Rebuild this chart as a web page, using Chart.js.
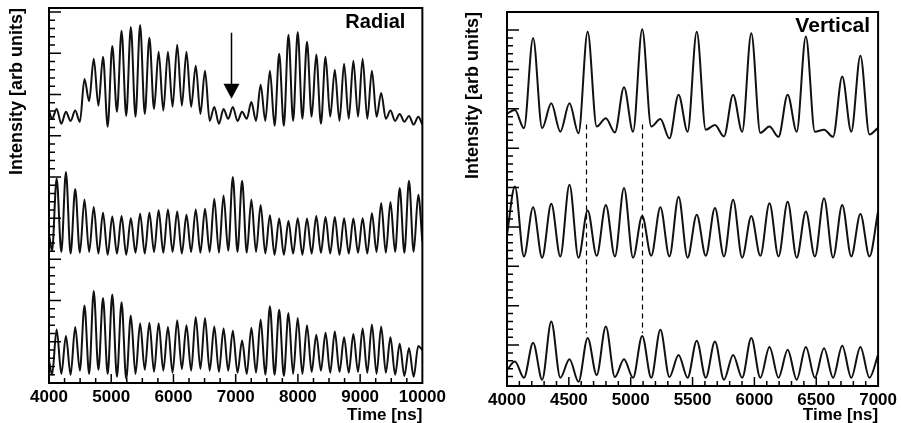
<!DOCTYPE html>
<html>
<head>
<meta charset="utf-8">
<script src="https://cdn.jsdelivr.net/npm/chart.js@4.4.0/dist/chart.umd.min.js"></script>
<style>
  html, body { margin: 0; padding: 0; background: #fff; }
  #wrap { position: relative; width: 901px; height: 423px; }
  canvas { position: absolute; top: 0; }
  #radial { left: 0; }
  #vertical { left: 450px; }
</style>
</head>
<body>
<div id="wrap">
  <canvas id="radial" width="450" height="423"></canvas>
  <canvas id="vertical" width="451" height="423"></canvas>
</div>
<script>
// --- values (arb units, peak / trough pairs) ---
const radialMajor = [4000, 5000, 6000, 7000, 8000, 9000, 10000];
const verticalMajor = [4000, 4500, 5000, 5500, 6000, 6500, 7000];

const radialTimes = [4000, 4049, 4123, 4198, 4272, 4347, 4421, 4496, 4570, 4645, 4719, 4794, 4868, 4943,
  5017, 5092, 5166, 5241, 5315, 5390, 5464, 5539, 5613, 5688, 5762, 5837, 5911, 5986, 6060, 6135,
  6209, 6284, 6358, 6433, 6507, 6582, 6656, 6731, 6805, 6880, 6954, 7029, 7103, 7178, 7252, 7327,
  7401, 7476, 7550, 7625, 7699, 7774, 7848, 7923, 7997, 8072, 8146, 8221, 8295, 8370, 8444, 8519,
  8593, 8668, 8742, 8817, 8891, 8966, 9040, 9115, 9189, 9264, 9338, 9413, 9487, 9562, 9636, 9711,
  9785, 9860, 9934, 10000];

const radialTop = [56.1, 54.1,
  56.5, 52.9, 55.8, 53.6, 56.1, 53.4, 63.8, 58.4, 68.7, 57.3, 69.2, 52.2, 71.8, 55.8, 75.5, 54.8,
  76.4, 54.6, 76.9, 55.3, 73.8, 56.5, 70.4, 56.1, 70.4, 57.0, 72.1, 57.3, 70.4, 57.0, 67.0, 55.3,
  65.8, 53.6, 57.0, 52.9, 56.5, 54.1, 57.0, 53.6, 55.8, 54.1, 58.2, 53.6, 62.4, 53.6, 65.8, 52.4,
  69.9, 52.4, 74.5, 53.6, 75.2, 54.1, 72.8, 54.6, 69.7, 52.9, 69.2, 54.6, 66.0, 53.6, 67.5, 54.1,
  68.2, 54.6, 68.7, 54.1, 65.8, 54.6, 60.4, 54.1, 56.1, 53.6, 55.3, 53.4, 54.8, 52.7,
  54.6, 52.7];

const radialMid = [26.2, 22.1,
  39.6, 21.8, 41.2, 21.4, 37.1, 21.6, 34.5, 21.8, 32.7, 21.4, 31.3, 21.1, 30.4, 21.4, 30.5, 21.1,
  30.0, 21.6, 31.1, 21.4, 31.3, 21.8, 31.9, 21.6, 32.1, 21.8, 31.6, 21.4, 30.8, 21.8, 32.1, 21.6,
  32.3, 21.8, 34.7, 21.6, 35.5, 22.1, 40.0, 21.8, 39.1, 21.6, 34.5, 21.8, 33.2, 21.4, 30.7, 21.1,
  29.9, 21.1, 29.3, 21.4, 30.0, 21.1, 29.9, 21.4, 30.5, 21.6, 30.3, 21.4, 30.3, 21.1, 30.0, 21.4,
  29.9, 21.6, 30.0, 21.4, 31.2, 21.8, 33.7, 21.6, 33.9, 21.8, 37.3, 21.6, 39.1, 21.8,
  35.7, 24.3];

const radialLow = [-4.5, -8.0,
  3.0, -7.8, 1.4, -8.0, 3.6, -7.0, 8.8, -7.8, 12.3, -6.8, 10.6, -7.8, 11.5, -8.5, 9.6, -9.0,
  6.4, -7.8, 4.5, -6.8, 4.6, -7.3, 4.5, -7.0, 3.6, -7.5, 5.2, -6.6, 4.0, -7.0, 6.0, -6.6,
  5.8, -7.0, 3.7, -7.3, 3.2, -7.0, 2.7, -7.5, 0.3, -7.8, 3.4, -7.5, 5.4, -8.0, 8.6, -8.0,
  7.8, -8.3, 7.0, -7.8, 5.8, -7.8, 4.0, -7.3, 1.7, -7.0, 2.2, -7.5, 2.5, -7.3, 1.1, -7.5,
  1.9, -7.3, 3.2, -7.5, 4.2, -7.8, 3.7, -7.5, 1.1, -8.0, -0.5, -8.3, -1.5, -8.5,
  -1.0, -2.0];

const vertTimes = [4000, 4064, 4137, 4211, 4284, 4358, 4431, 4505, 4578, 4652, 4725, 4799, 4872,
  4946, 5019, 5093, 5166, 5240, 5313, 5387, 5460, 5534, 5607, 5681, 5754, 5828, 5901, 5975, 6048,
  6122, 6195, 6269, 6342, 6416, 6489, 6563, 6636, 6710, 6783, 6857, 6930, 7000];

const vertTop = [58.8,
  59.7, 55.1, 78.0, 55.1, 61.4, 54.2, 61.4, 53.8, 79.6, 55.5, 57.6, 54.0, 65.5, 54.2, 80.2, 55.5,
  57.4, 52.5, 63.6, 54.2, 79.6, 54.7, 55.9, 53.0, 63.6, 54.2, 79.2, 53.9, 55.5, 52.9, 63.6, 54.2,
  78.4, 54.2, 54.7, 52.9, 68.2, 54.2, 73.5, 53.5,
  55.2];

const vertMid = [28.0,
  40.3, 22.5, 35.0, 22.2, 35.9, 22.5, 40.7, 22.2, 34.2, 22.7, 35.6, 22.5, 39.9, 22.2, 32.8, 22.7,
  35.0, 22.5, 37.7, 22.2, 33.1, 22.7, 34.8, 22.5, 36.9, 22.2, 32.8, 22.7, 36.0, 22.5, 36.4, 22.2,
  33.9, 22.5, 37.3, 22.2, 35.6, 22.5, 33.3, 22.5,
  34.0];

const vertLow = [-6.3,
  -4.2, -8.3, 0.6, -8.8, 6.0, -8.3, -3.6, -9.3, 1.8, -7.6, 4.7, -8.1, -3.6, -8.3, 2.3, -8.3,
  3.9, -8.1, -2.5, -8.3, 1.1, -8.3, 0.9, -8.8, -2.5, -8.3, 1.8, -8.3, -0.5, -8.3, -1.2, -8.8,
  -0.5, -8.3, -0.8, -8.3, -0.2, -8.3, -0.5, -8.3,
  -2.5];

// annotations, in data units
const radialArrow = { t: 6920, from: 75, to: 59 };
const vertDashes = { at: [4640, 5090], from: 3, to: 56 };

Chart.defaults.font.family = '"Liberation Sans", Arial, Helvetica, sans-serif';
Chart.defaults.color = '#000';

function steps(a, b, d) {
  const out = [];
  for (let v = a; v <= b + 1e-9; v += d) out.push(Math.round(v * 100) / 100);
  return out;
}

// ROOT-like frame: closed box, ticks pointing inwards, panel name, extras
const rootFrame = {
  id: 'rootFrame',
  afterDatasetsDraw(chart, args, o) {
    const { ctx, chartArea: a, scales: { x, y } } = chart;
    ctx.save();
    ctx.strokeStyle = '#000';
    ctx.fillStyle = '#000';

    if (o.dashes) {
      ctx.setLineDash([5, 4]);
      ctx.lineWidth = 1.2;
      const y0 = y.getPixelForValue(o.dashes.to), y1 = y.getPixelForValue(o.dashes.from);
      o.dashes.at.forEach(t => {
        const p = Math.round(x.getPixelForValue(t)) + 0.5;
        ctx.beginPath(); ctx.moveTo(p, y0); ctx.lineTo(p, y1); ctx.stroke();
      });
      ctx.setLineDash([]);
    }

    ctx.lineWidth = 1.5;
    ctx.beginPath();
    y.ticks.forEach(t => {
      if (t.value <= y.min || t.value >= y.max) return;
      const p = y.getPixelForValue(t.value);
      const len = t.value % 10 === 0 ? 12 : 6;
      ctx.moveTo(a.left, p); ctx.lineTo(a.left + len, p);
    });
    x.ticks.forEach(t => {
      if (t.value <= x.min || t.value >= x.max) return;
      const p = x.getPixelForValue(t.value);
      const len = o.majors.includes(t.value) ? 9 : 5;
      ctx.moveTo(p, a.bottom); ctx.lineTo(p, a.bottom - len);
    });
    ctx.stroke();

    ctx.lineWidth = 2;
    ctx.strokeRect(a.left, a.top, a.right - a.left, a.bottom - a.top);

    ctx.font = 'bold ' + o.nameSize + 'px "Liberation Sans", Arial, sans-serif';
    ctx.textAlign = 'right';
    ctx.textBaseline = 'alphabetic';
    ctx.fillText(o.name, a.right - o.nameInset, a.top + o.nameDrop);

    if (o.arrow) {
      const ax = Math.round(x.getPixelForValue(o.arrow.t)) + 0.5;
      const y0 = y.getPixelForValue(o.arrow.from), y1 = y.getPixelForValue(o.arrow.to);
      ctx.lineWidth = 1.5;
      ctx.beginPath(); ctx.moveTo(ax, y0); ctx.lineTo(ax, y1 - 12); ctx.stroke();
      ctx.beginPath();
      ctx.moveTo(ax - 8, y1 - 15); ctx.lineTo(ax + 8, y1 - 15); ctx.lineTo(ax, y1);
      ctx.closePath(); ctx.fill();
    }
    ctx.restore();
  }
};

function panel(id, times, series, cfg) {
  return new Chart(document.getElementById(id), {
    type: 'line',
    data: {
      datasets: series.map(s => ({
        data: times.map((t, i) => ({ x: t, y: s[i] })),
        borderColor: '#111',
        borderWidth: 2,
        pointRadius: 0,
        cubicInterpolationMode: 'monotone',
        fill: false
      }))
    },
    options: {
      responsive: false,
      animation: false,
      devicePixelRatio: 1,
      layout: { padding: cfg.padding },
      plugins: { legend: { display: false }, tooltip: { enabled: false }, rootFrame: cfg.frame },
      scales: {
        x: {
          type: 'linear', min: cfg.xMin, max: cfg.xMax,
          grid: { display: false, drawTicks: false }, border: { display: false },
          afterBuildTicks: s => { s.ticks = steps(cfg.xMin, cfg.xMax, cfg.xMinor).map(v => ({ value: v })); },
          afterFit: s => { s.height = cfg.xHeight; },
          ticks: {
            autoSkip: false, maxRotation: 0, padding: 4,
            font: { size: 17, weight: 'bold' },
            callback: v => cfg.frame.majors.includes(v) ? String(v) : ''
          },
          title: { display: true, text: 'Time [ns]', align: 'end', padding: { top: 0, bottom: -3 }, font: { size: 17, weight: 'bold' } }
        },
        y: {
          type: 'linear', min: cfg.yMin, max: cfg.yMax,
          grid: { display: false, drawTicks: false }, border: { display: false },
          afterBuildTicks: s => { s.ticks = steps(-8, 80, 2).map(v => ({ value: v })); },
          afterFit: s => { s.width = cfg.yWidth; },
          ticks: { display: false },
          title: { display: true, text: 'Intensity [arb units]', align: 'end', padding: { top: cfg.titlePad, bottom: 0 }, font: { size: 18, weight: 'bold' } }
        }
      }
    },
    plugins: [rootFrame]
  });
}

panel('radial', radialTimes, [radialTop, radialMid, radialLow], {
  xMin: 4000, xMax: 10000, xMinor: 250, yMin: -10, yMax: 81,
  padding: { left: 0, top: 8, right: 27, bottom: 0 },
  xHeight: 40, yWidth: 49, titlePad: 6,
  frame: { majors: radialMajor, name: 'Radial', nameSize: 20, nameInset: 17, nameDrop: 20, arrow: radialArrow }
});

panel('vertical', vertTimes, [vertTop, vertMid, vertLow], {
  xMin: 4000, xMax: 7000, xMinor: 100, yMin: -10.4, yMax: 84.6,
  padding: { left: 0, top: 12, right: 20, bottom: 0 },
  xHeight: 37, yWidth: 57, titlePad: 12,
  frame: { majors: verticalMajor, name: 'Vertical', nameSize: 21, nameInset: 8, nameDrop: 20, dashes: vertDashes }
});
</script>
</body>
</html>
